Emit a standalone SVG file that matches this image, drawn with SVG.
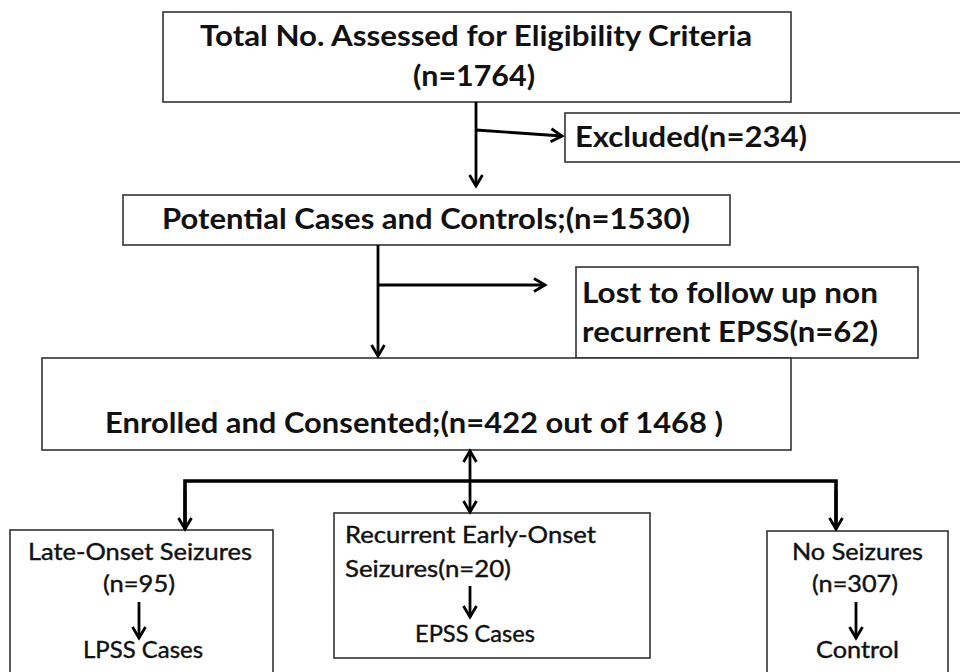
<svg xmlns="http://www.w3.org/2000/svg" width="960" height="672" viewBox="0 0 960 672">
<style>
.box{fill:#fff;stroke:#333;stroke-width:1.6}
.b{font-family:Lato,"Open Sans","Liberation Sans",sans-serif;font-weight:700;font-size:28px;fill:#111}
.r{font-family:Lato,"Open Sans","Liberation Sans",sans-serif;font-weight:400;font-size:23px;fill:#111;stroke:#111;stroke-width:0.4}
.ln{fill:none;stroke:#000;stroke-width:2.8}
.thick{fill:none;stroke:#000;stroke-width:3.6}
</style>
<defs>
<marker id="ah" markerUnits="userSpaceOnUse" markerWidth="18" markerHeight="18" refX="13" refY="8" orient="auto">
<path d="M2,1.5 L13,8 L2,14.5" fill="none" stroke="#000" stroke-width="2.8"/>
</marker>
<marker id="ahs" markerUnits="userSpaceOnUse" markerWidth="18" markerHeight="18" refX="13" refY="8" orient="auto-start-reverse">
<path d="M2,1.5 L13,8 L2,14.5" fill="none" stroke="#000" stroke-width="2.8"/>
</marker>
</defs>
<rect width="960" height="672" fill="#fff"/>
<g id="n1">
<rect class="box" x="163" y="12" width="628" height="90"/>
<text class="b" x="200" y="46" textLength="552" lengthAdjust="spacingAndGlyphs">Total No. Assessed for Eligibility Criteria</text>
<text class="b" x="413" y="86" textLength="122" lengthAdjust="spacingAndGlyphs">(n=1764)</text>
</g>
<g id="excluded">
<rect class="box" x="565" y="113" width="410" height="49"/>
<text class="b" x="575" y="147" textLength="232" lengthAdjust="spacingAndGlyphs">Excluded(n=234)</text>
</g>
<g id="potential">
<rect class="box" x="123" y="195" width="607" height="50"/>
<text class="b" x="162" y="229" textLength="528" lengthAdjust="spacingAndGlyphs">Potential Cases and Controls;(n=1530)</text>
</g>
<g id="lost">
<rect class="box" x="576" y="267" width="342" height="91"/>
<text class="b" x="582" y="303" textLength="296" lengthAdjust="spacingAndGlyphs">Lost to follow up non</text>
<text class="b" x="582" y="342" textLength="296" lengthAdjust="spacingAndGlyphs">recurrent EPSS(n=62)</text>
</g>
<g id="enrolled">
<rect class="box" x="42" y="358" width="749" height="92"/>
<text class="b" x="105" y="433" textLength="618" lengthAdjust="spacingAndGlyphs">Enrolled and Consented;(n=422 out of 1468 )</text>
</g>
<g id="late">
<rect class="box" x="10" y="530" width="263" height="160"/>
<text class="r" x="28" y="560" textLength="224" lengthAdjust="spacingAndGlyphs">Late-Onset Seizures</text>
<text class="r" x="103" y="592" textLength="72" lengthAdjust="spacingAndGlyphs">(n=95)</text>
<text class="r" x="83" y="658" textLength="120" lengthAdjust="spacingAndGlyphs">LPSS Cases</text>
</g>
<g id="early">
<rect class="box" x="334" y="513" width="316" height="145"/>
<text class="r" x="345" y="543" textLength="251" lengthAdjust="spacingAndGlyphs">Recurrent Early-Onset</text>
<text class="r" x="345" y="577" textLength="166" lengthAdjust="spacingAndGlyphs">Seizures(n=20)</text>
<text class="r" x="415" y="642" textLength="120" lengthAdjust="spacingAndGlyphs">EPSS Cases</text>
</g>
<g id="none">
<rect class="box" x="767" y="531" width="181" height="160"/>
<text class="r" x="792" y="560" textLength="131" lengthAdjust="spacingAndGlyphs">No Seizures</text>
<text class="r" x="812" y="592" textLength="86" lengthAdjust="spacingAndGlyphs">(n=307)</text>
<text class="r" x="816" y="658" textLength="83" lengthAdjust="spacingAndGlyphs">Control</text>
</g>
<g id="connectors">
<line class="ln" x1="476" y1="102" x2="476" y2="186" marker-end="url(#ah)"/>
<line class="ln" x1="476" y1="130" x2="562" y2="136" marker-end="url(#ah)"/>
<line class="ln" x1="378" y1="245" x2="378" y2="356" marker-end="url(#ah)"/>
<line class="ln" x1="378" y1="285" x2="545" y2="285" marker-end="url(#ah)"/>
<line class="ln" x1="470" y1="451" x2="470" y2="512" marker-start="url(#ahs)" marker-end="url(#ahs)"/>
<polyline class="thick" points="185,529 185,481 836,481 836,529"/>
<line class="ln" x1="185" y1="490" x2="185" y2="529" marker-end="url(#ah)"/>
<line class="ln" x1="836" y1="490" x2="836" y2="529" marker-end="url(#ah)"/>
<line class="ln" x1="139" y1="602" x2="139" y2="638" marker-end="url(#ah)"/>
<line class="ln" x1="470" y1="586" x2="470" y2="617" marker-end="url(#ah)"/>
<line class="ln" x1="856" y1="602" x2="856" y2="638" marker-end="url(#ah)"/>
</g>
</svg>
